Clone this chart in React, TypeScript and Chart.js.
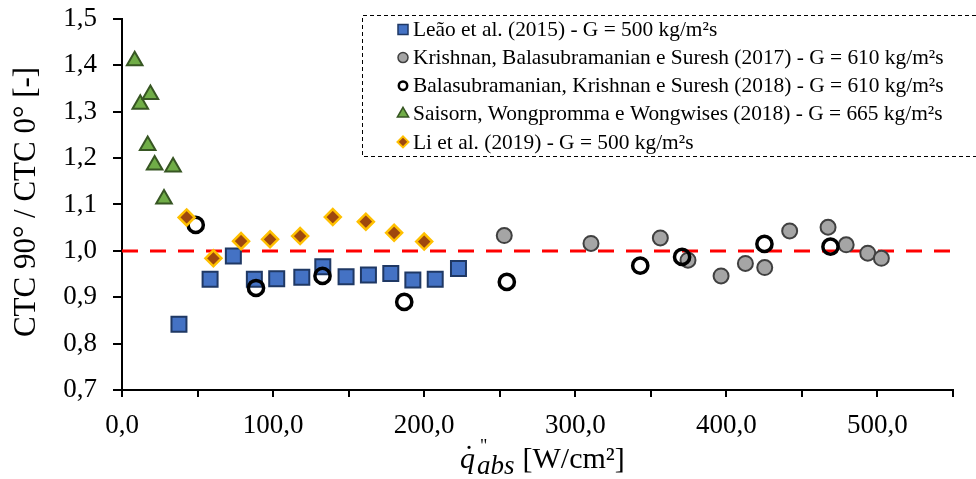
import React, { useEffect, useRef } from "react";
import { Chart, registerables } from "chart.js";

Chart.register(...registerables);

const FONT = "'Liberation Serif', 'Times New Roman', serif";

const seriesLabels = [
  "Leão et al. (2015) - G = 500 kg/m²s",
  "Krishnan, Balasubramanian e Suresh (2017) - G = 610 kg/m²s",
  "Balasubramanian, Krishnan e Suresh (2018) - G = 610 kg/m²s",
  "Saisorn, Wongpromma e Wongwises (2018) - G = 665 kg/m²s",
  "Li et al. (2019) - G = 500 kg/m²s",
];

const leaoX = [37.7, 58.3, 73.7, 87.6, 102.4, 119.0, 132.9, 148.3, 163.1, 177.9, 192.5, 207.3, 222.7];
const leaoY = [0.842, 0.939, 0.989, 0.939, 0.940, 0.943, 0.966, 0.944, 0.948, 0.951, 0.937, 0.939, 0.962];

const krishnanX = [253.0, 310.4, 356.3, 374.6, 396.5, 412.6, 425.4, 441.9, 467.3, 479.3, 493.6, 502.6];
const krishnanY = [1.033, 1.016, 1.028, 0.980, 0.946, 0.973, 0.964, 1.043, 1.051, 1.013, 0.995, 0.984];

const balaX = [48.8, 88.7, 132.7, 186.8, 254.7, 343.0, 370.7, 425.2, 468.9];
const balaY = [1.056, 0.920, 0.946, 0.890, 0.933, 0.968, 0.987, 1.015, 1.009];

const saisornX = [8.4, 12.1, 17.0, 18.8, 21.6, 27.8, 33.8];
const saisornY = [1.410, 1.316, 1.227, 1.337, 1.185, 1.112, 1.181];

const liX = [42.8, 60.5, 78.8, 98.0, 117.9, 139.5, 161.4, 180.1, 200.0];
const liY = [1.072, 0.984, 1.021, 1.025, 1.032, 1.073, 1.063, 1.039, 1.020];

const refX = [0, 550];
const refY = [1.0, 1.0];

const xTicksMin = 0;
const xTicksMax = 550;
const xStep = 50;
const yTicksMin = 0.7;
const yTicksMax = 1.5;
const yStep = 0.1;

const yTitle = "CTC 90° / CTC 0° [-]";

const pts = (xs: number[], ys: number[]) => xs.map((x, i) => ({ x, y: ys[i] }));

type Mk = { style: string; fill: string; stroke: string; lw: number; r: number };
const legendMarkers: Mk[] = [
  { style: "rect", fill: "#4472C4", stroke: "#1F3864", lw: 1.5, r: 5 },
  { style: "circle", fill: "#A5A5A5", stroke: "#404040", lw: 1.5, r: 5 },
  { style: "ring", fill: "rgba(0,0,0,0)", stroke: "#000", lw: 2.5, r: 4.2 },
  { style: "triangle", fill: "#70AD47", stroke: "#375623", lw: 1.5, r: 6.5 },
  { style: "diamond", fill: "#9E480E", stroke: "#FFC000", lw: 2, r: 5.5 },
];

function drawMarker(ctx: CanvasRenderingContext2D, m: Mk, x: number, y: number) {
  ctx.save();
  ctx.setLineDash([]);
  ctx.fillStyle = m.fill;
  ctx.strokeStyle = m.stroke;
  ctx.lineWidth = m.lw;
  ctx.beginPath();
  if (m.style === "rect") {
    ctx.rect(x - m.r, y - m.r, 2 * m.r, 2 * m.r);
  } else if (m.style === "circle" || m.style === "ring") {
    ctx.arc(x, y, m.r, 0, Math.PI * 2);
  } else if (m.style === "triangle") {
    ctx.moveTo(x, y - m.r);
    ctx.lineTo(x + m.r * 0.866, y + m.r * 0.5);
    ctx.lineTo(x - m.r * 0.866, y + m.r * 0.5);
    ctx.closePath();
  } else if (m.style === "diamond") {
    ctx.moveTo(x, y - m.r);
    ctx.lineTo(x + m.r, y);
    ctx.lineTo(x, y + m.r);
    ctx.lineTo(x - m.r, y);
    ctx.closePath();
  }
  ctx.fill();
  ctx.stroke();
  ctx.restore();
}

const overlayPlugin = {
  id: "overlay",
  afterDraw(chart: any) {
    const ctx: CanvasRenderingContext2D = chart.ctx;
    ctx.save();
    // legend box (dashed)
    ctx.strokeStyle = "#000";
    ctx.lineWidth = 1;
    ctx.setLineDash([4, 3]);
    ctx.beginPath();
    ctx.moveTo(976, 15.5);
    ctx.lineTo(362.5, 15.5);
    ctx.lineTo(362.5, 156.5);
    ctx.lineTo(976, 156.5);
    ctx.stroke();
    ctx.setLineDash([]);
    ctx.fillStyle = "#000";
    ctx.font = `21.4px ${FONT}`;
    ctx.textAlign = "left";
    ctx.textBaseline = "middle";
    seriesLabels.forEach((label, i) => {
      const y = 29.5 + i * 28.1;
      drawMarker(ctx, legendMarkers[i], 403, y);
      ctx.fillStyle = "#000";
      ctx.fillText(label, 413, y + 1);
    });

    // y axis title
    ctx.save();
    ctx.translate(35, 202);
    ctx.rotate(-Math.PI / 2);
    ctx.font = `31px ${FONT}`;
    ctx.textAlign = "center";
    ctx.textBaseline = "alphabetic";
    ctx.fillText(yTitle, 0, 0);
    ctx.restore();

    // x axis title: q-dot '' subscript abs [W/cm²]
    const base = 468;
    ctx.textAlign = "left";
    ctx.textBaseline = "alphabetic";
    ctx.font = `italic 30px ${FONT}`;
    ctx.fillText("q", 460, base);
    ctx.font = `30px ${FONT}`;
    ctx.fillText("˙", 464, base - 2);
    ctx.font = `18px ${FONT}`;
    ctx.fillText('"', 480, base - 16);
    ctx.font = `italic 27px ${FONT}`;
    ctx.fillText("abs", 477, base + 6);
    ctx.font = `30px ${FONT}`;
    ctx.fillText(" [W/cm²]", 515, base);
    ctx.restore();
  },
};

export default function App() {
  const ref = useRef<HTMLCanvasElement | null>(null);
  useEffect(() => {
    document.body.style.margin = "0";
    const canvas = ref.current;
    if (!canvas) return;
    const tickFont = { family: FONT, size: 27 };
    const chart = new Chart(canvas, {
      type: "scatter",
      data: {
        datasets: [
          {
            label: seriesLabels[0],
            data: pts(leaoX, leaoY),
            pointStyle: "rect",
            pointRadius: 10.6,
            backgroundColor: "#4472C4",
            borderColor: "#1F3864",
            borderWidth: 2,
            order: 5,
          },
          {
            label: seriesLabels[1],
            data: pts(krishnanX, krishnanY),
            pointStyle: "circle",
            pointRadius: 7.5,
            backgroundColor: "#A5A5A5",
            borderColor: "#404040",
            borderWidth: 2,
            order: 4,
          },
          {
            label: seriesLabels[2],
            data: pts(balaX, balaY),
            pointStyle: "circle",
            pointRadius: 7.6,
            backgroundColor: "rgba(0,0,0,0)",
            borderColor: "#000000",
            borderWidth: 3.5,
            order: 3,
          },
          {
            label: seriesLabels[3],
            data: pts(saisornX, saisornY),
            pointStyle: "triangle",
            pointRadius: 9,
            backgroundColor: "#70AD47",
            borderColor: "#375623",
            borderWidth: 2,
            order: 2,
          },
          {
            label: seriesLabels[4],
            data: pts(liX, liY),
            pointStyle: "rectRot",
            pointRadius: 8,
            backgroundColor: "#9E480E",
            borderColor: "#FFC000",
            borderWidth: 2.5,
            order: 1,
          },
          {
            type: "line",
            label: "ref",
            data: pts(refX, refY),
            borderColor: "#FF0000",
            borderWidth: 3,
            borderDash: [16, 12],
            pointRadius: 0,
            showLine: true,
            fill: false,
            order: 6,
          } as any,
        ],
      },
      options: {
        responsive: false,
        animation: false,
        devicePixelRatio: 1,
        layout: { padding: { top: 19, right: 23, left: 0, bottom: 0 } },
        plugins: { legend: { display: false }, tooltip: { enabled: false } },
        scales: {
          x: {
            type: "linear",
            min: xTicksMin,
            max: xTicksMax,
            afterFit: (s: any) => {
              s.height = 89;
              s.paddingLeft = 0;
              s.paddingRight = 0;
            },
            border: { display: true, color: "#000", width: 2 },
            grid: { display: true, drawOnChartArea: false, drawTicks: true, tickLength: 7, color: "#000", lineWidth: 2 },
            ticks: {
              stepSize: xStep,
              autoSkip: false,
              maxRotation: 0,
              padding: 13,
              color: "#000",
              font: tickFont,
              callback: (v: any) => (Math.round(v) % 100 === 0 ? Number(v).toFixed(1).replace(".", ",") : ""),
            },
          },
          y: {
            type: "linear",
            min: yTicksMin,
            max: yTicksMax,
            afterFit: (s: any) => {
              s.width = 122;
              s.paddingTop = 0;
              s.paddingBottom = 0;
            },
            border: { display: true, color: "#000", width: 2 },
            grid: { display: true, drawOnChartArea: false, drawTicks: true, tickLength: 9, color: "#000", lineWidth: 2 },
            ticks: {
              stepSize: yStep,
              autoSkip: false,
              padding: 16,
              color: "#000",
              font: tickFont,
              callback: (v: any) => Number(v).toFixed(1).replace(".", ","),
            },
          },
        },
      } as any,
      plugins: [overlayPlugin],
    });
    return () => chart.destroy();
  }, []);
  return <canvas ref={ref} width={976} height={479} style={{ display: "block" }} />;
}
